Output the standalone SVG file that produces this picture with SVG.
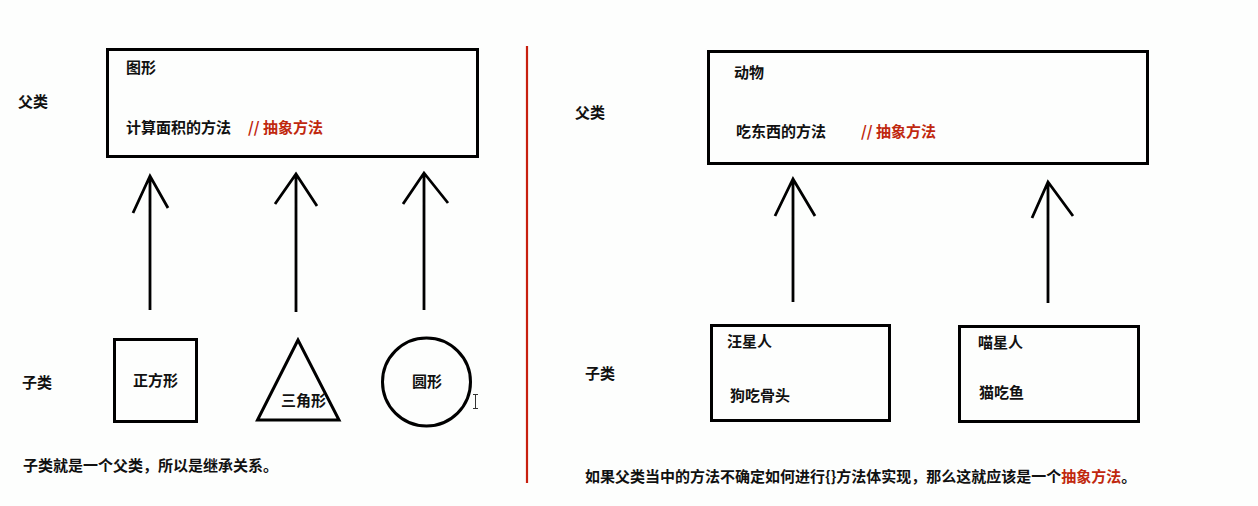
<svg xmlns="http://www.w3.org/2000/svg" width="1258" height="506" viewBox="0 0 1258 506">
<style>
.t{font-family:"Microsoft YaHei","Noto Sans CJK SC","Noto Sans CJK JP",sans-serif;font-size:15px;font-weight:bold;fill:#111}
.r{fill:#c0280e}
.box{fill:none;stroke:#000;stroke-width:3}
.arr{fill:none;stroke:#000;stroke-width:2.8;stroke-linecap:butt;stroke-linejoin:miter}
</style>
<rect width="1258" height="506" fill="#fdfefd"/>
<line x1="527" y1="46" x2="527" y2="483" stroke="#c8200f" stroke-width="2.2"/>

<g id="left-labels">
<text class="t" x="18" y="107">父类</text>
<text class="t" x="22" y="388">子类</text>
<text class="t" x="23" y="471">子类就是一个父类，所以是继承关系。</text>
</g>
<g id="shape-parent">
<rect class="box" x="107.5" y="49.5" width="370" height="107"/>
<text class="t" x="126" y="73">图形</text>
<text class="t" x="126" y="133">计算面积的方法</text>
<text class="t r" x="248" y="133">// 抽象方法</text>
</g>
<g id="square">
<rect class="box" x="114.5" y="339.5" width="82" height="82"/>
<text class="t" x="133" y="386">正方形</text>
</g>
<g id="triangle">
<polygon class="box" points="298,340 257.5,420 339,420"/>
<text class="t" x="281" y="406">三角形</text>
</g>
<g id="circle">
<circle class="box" cx="426.5" cy="382" r="44"/>
<text class="t" x="412" y="387">圆形</text>
</g>
<g id="cursor" stroke="#333" stroke-width="1" fill="none">
<line x1="475.5" y1="394" x2="475.5" y2="409"/>
<line x1="473" y1="394.5" x2="478" y2="394.5"/>
<line x1="473" y1="408.5" x2="478" y2="408.5"/>
</g>

<g id="right-labels">
<text class="t" x="575" y="118">父类</text>
<text class="t" x="585" y="379">子类</text>
<text class="t" x="585" y="482">如果父类当中的方法不确定如何进行{}方法体实现，那么这就应该是一个<tspan class="r">抽象方法</tspan>。</text>
</g>
<g id="animal">
<rect class="box" x="708.5" y="51.5" width="439" height="112"/>
<text class="t" x="734" y="78">动物</text>
<text class="t" x="736" y="137">吃东西的方法</text>
<text class="t r" x="861" y="137">// 抽象方法</text>
</g>
<g id="dog">
<rect class="box" x="711.5" y="325.5" width="178" height="95"/>
<text class="t" x="727" y="347">汪星人</text>
<text class="t" x="730" y="401">狗吃骨头</text>
</g>
<g id="cat">
<rect class="box" x="959.5" y="326.5" width="179" height="95"/>
<text class="t" x="978" y="348">喵星人</text>
<text class="t" x="979" y="398">猫吃鱼</text>
</g>

<g id="connectors">
<path class="arr" d="M150,310 V176 M133,213 L150,176 L168,208"/>
<path class="arr" d="M296,312 V174 M275,204 L296,174 L317,206"/>
<path class="arr" d="M424,310 V173 M403,204 L424,173 L448,203"/>
<path class="arr" d="M793,302 V179 M775,216 L793,179 L815,216"/>
<path class="arr" d="M1048,303 V182 M1032,218 L1048,182 L1073,216"/>
</g>
</svg>
